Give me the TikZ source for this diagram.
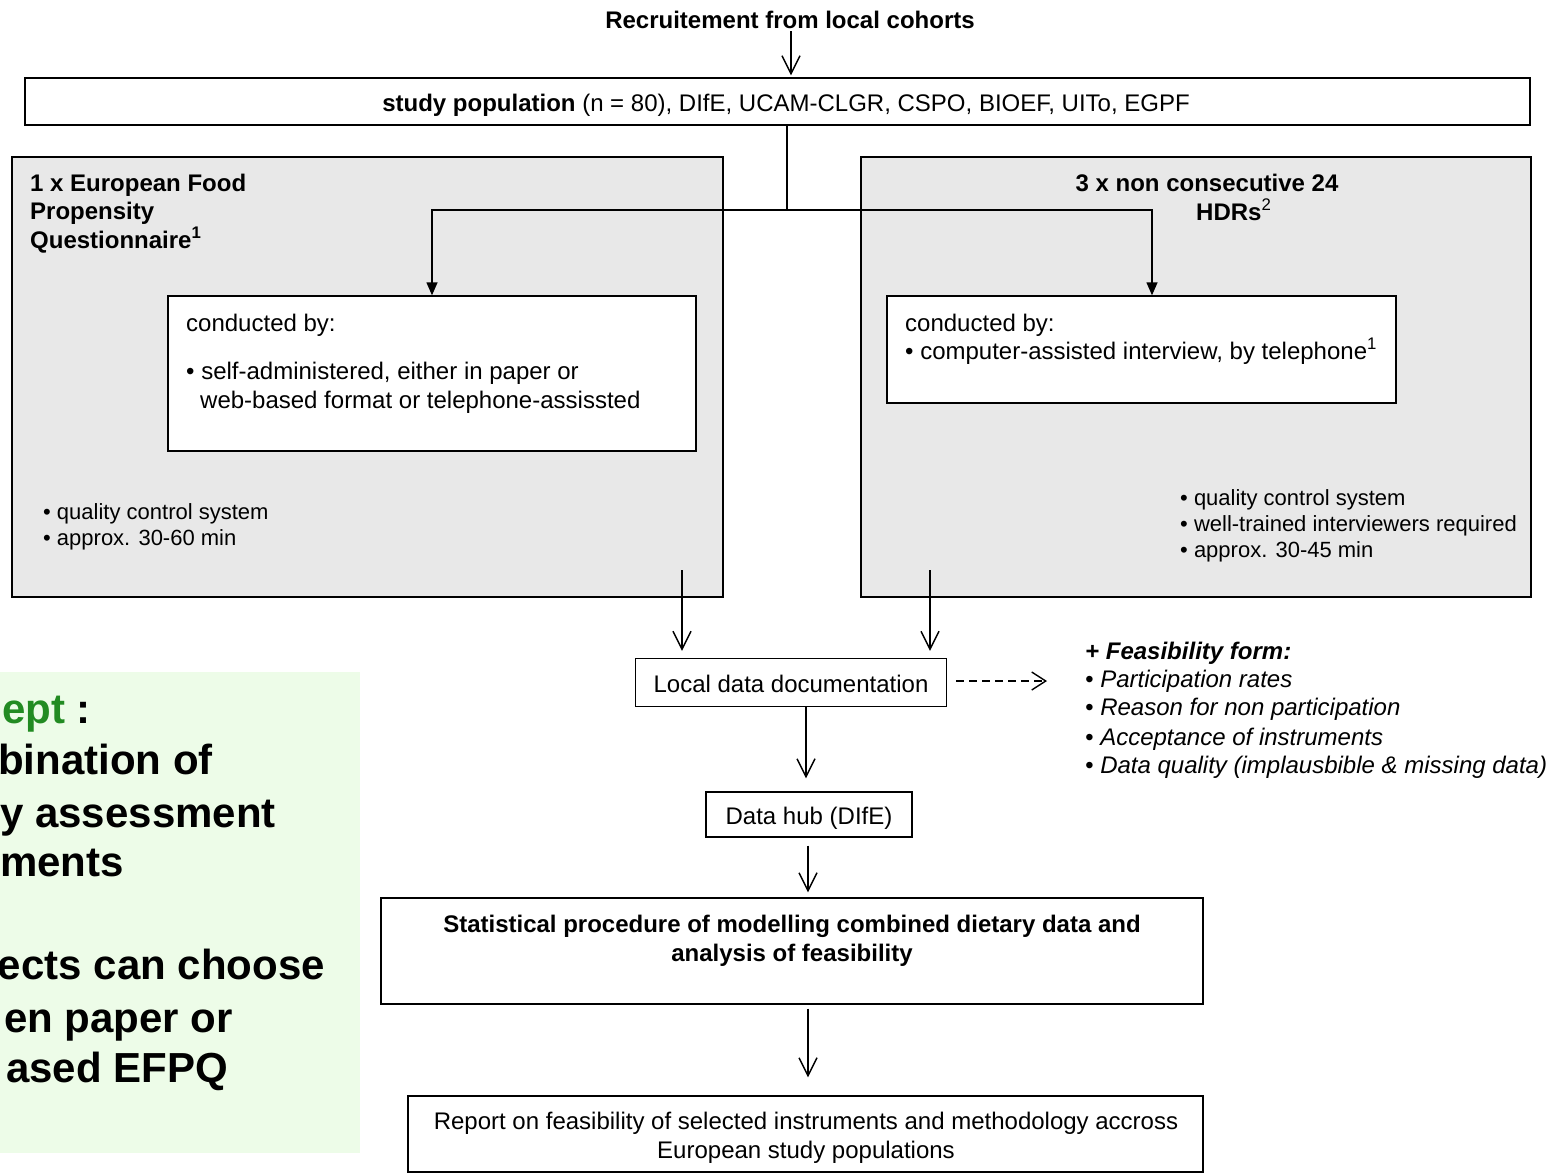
\documentclass[tikz,border=0pt]{standalone}
\usepackage{fontspec}
\setmainfont{Liberation Sans}
\usetikzlibrary{arrows.meta}
\definecolor{grayfill}{RGB}{232,232,232}
\definecolor{greenbg}{RGB}{237,252,232}
\definecolor{greentxt}{RGB}{34,139,34}
\begin{document}
\begin{tikzpicture}[x=1pt,y=-1pt,
  font=\fontsize{24}{28.5}\selectfont,
  box/.style={draw, line width=1.4pt, fill=white, inner sep=0pt},
  graybox/.style={draw, line width=1.4pt, fill=grayfill, inner sep=0pt},
  txt/.style={inner sep=0pt},
  small/.style={inner sep=0pt, anchor=base west, font=\fontsize{22}{26}\selectfont},
  big/.style={inner sep=0pt, anchor=base east, font=\fontsize{42}{50}\selectfont\bfseries},
  oarrow/.style={line width=1.4pt, -{Straight Barb[length=18pt,width=18pt,line width=1.4pt]}},
  farrow/.style={line width=1.4pt, -{Triangle[length=13pt,width=11pt]}},
  darrow/.style={line width=1.4pt, dash pattern=on 8pt off 5pt, -{Straight Barb[length=14pt,width=18pt,line width=1.4pt]}},
  plain/.style={line width=1.4pt}
]
\useasboundingbox (0,0) rectangle (1552,1175);
\fill[white] (0,0) rectangle (1552,1175);

% helper coordinates
\coordinate (xr) at (791,0);
\coordinate (xs) at (787,0);
\coordinate (sp) at (787,210);
\coordinate (xL) at (432,0);
\coordinate (xR) at (1152,0);
\coordinate (la) at (682,570);
\coordinate (ra) at (930,570);
\coordinate (xd) at (806,0);
\coordinate (xh) at (808,0);
\coordinate (dend) at (1047,681);

% green background panel (cropped)
\fill[greenbg] (0,672) rectangle (360,1153);
\node[txt, anchor=base west, font=\fontsize{42}{50}\selectfont\bfseries] (g1) at (2,723) {\textcolor{greentxt}{ept} :};
\node[big] (g2) at (213,774) {bination of};
\node[big] (g3) at (276,827) {y assessment};
\node[big] (g4) at (124,876) {ments};
\node[big] (g5) at (325,979) {ects can choose};
\node[big] (g6) at (233,1032) {en paper or};
\node[big] (g7) at (228,1082) {ased EFPQ};

% top
\node[txt, anchor=base] (rec) at (790,28) {\textbf{Recruitement from local cohorts}};
\node[box, minimum width=1505pt, minimum height=47pt] (study) at (777.5,101.5) {};
\node[txt, anchor=base] (studyt) at (786,111) {\textbf{study population} (n = 80), DIfE, UCAM-CLGR, CSPO, BIOEF, UITo, EGPF};

% gray boxes
\node[graybox, minimum width=711pt, minimum height=440pt] (gl) at (367.5,377) {};
\node[graybox, minimum width=670pt, minimum height=440pt] (gr) at (1196,377) {};

\node[txt, anchor=base west] (glt1) at (30,191) {\textbf{1 x European Food}};
\node[txt, anchor=base west] (glt2) at (30,219) {\textbf{Propensity}};
\node[txt, anchor=base west] (glt3) at (30,248) {\textbf{Questionnaire\textsuperscript{1}}};

\node[txt, anchor=base] (grt1) at (1207,191) {\textbf{3 x non consecutive 24}};
\node[txt, anchor=base west] (grt2) at (1196,220) {\textbf{HDRs}\textsuperscript{2}};

% inner boxes
\node[box, minimum width=528pt, minimum height=155pt] (inL) at (432,373.5) {};
\node[txt, anchor=base west] (inL1) at (186,331) {conducted by:};
\node[txt, anchor=base west] (inL2) at (186,379) {• self-administered, either in paper or};
\node[txt, anchor=base west] (inL3) at (200,408) {web-based format or telephone-assissted};

\node[box, minimum width=509pt, minimum height=107pt] (inR) at (1141.5,349.5) {};
\node[txt, anchor=base west] (inR1) at (905,331) {conducted by:};
\node[txt, anchor=base west] (inR2) at (905,359) {• computer-assisted interview, by telephone\textsuperscript{1}};

% bullets in gray boxes
\node[small] (bl1) at (43,519) {• quality control system};
\node[small] (bl2) at (43,545) {• approx. 30-60 min};
\node[small] (br1) at (1180,505) {• quality control system};
\node[small] (br2) at (1180,531) {• well-trained interviewers required};
\node[small] (br3) at (1180,557) {• approx. 30-45 min};

% lower flow
\node[box, minimum width=311pt, minimum height=48pt] (ldd) at (791,682.5) {};
\node[txt, anchor=base] (lddt) at (791,692) {Local data documentation};

\node[txt, anchor=base west] (fe0) at (1085,659) {\textbf{\textit{+ Feasibility form:}}};
\node[txt, anchor=base west] (fe1) at (1085,687) {\textit{• Participation rates}};
\node[txt, anchor=base west] (fe2) at (1085,715) {\textit{• Reason for non participation}};
\node[txt, anchor=base west] (fe3) at (1085,745) {\textit{• Acceptance of instruments}};
\node[txt, anchor=base west] (fe4) at (1085,773) {\textit{• Data quality (implausbible \& missing data)}};

\node[box, minimum width=206pt, minimum height=45pt] (hub) at (809,814.5) {};
\node[txt, anchor=base] (hubt) at (809,824) {Data hub (DIfE)};

\node[box, minimum width=822pt, minimum height=106pt] (stat) at (792,951) {};
\node[txt, anchor=base] (stat1) at (792,932) {\textbf{Statistical procedure of modelling combined dietary data and}};
\node[txt, anchor=base] (stat2) at (792,961) {\textbf{analysis of feasibility}};

\node[box, minimum width=795pt, minimum height=76pt] (report) at (805.5,1134) {};
\node[txt, anchor=base] (rep1) at (806,1129) {Report on feasibility of selected instruments and methodology accross};
\node[txt, anchor=base] (rep2) at (806,1158) {European study populations};

% connectors
\draw[oarrow, shorten <=3pt, shorten >=2pt] (rec.south -| xr) -- (xr |- study.north);
\draw[plain] (study.south -| xs) -- (sp);
\draw[farrow] (sp) -| (xL |- inL.north);
\draw[farrow] (sp) -| (xR |- inR.north);
\draw[oarrow, shorten >=7pt] (la) -- (la |- ldd.north);
\draw[oarrow, shorten >=7pt] (ra) -- (ra |- ldd.north);
\draw[darrow, shorten <=9pt] (ldd.east |- dend) -- (dend);
\draw[oarrow, shorten >=13pt] (ldd.south -| xd) -- (xd |- hub.north);
\draw[oarrow, shorten <=8pt, shorten >=5pt] (hub.south -| xh) -- (xh |- stat.north);
\draw[oarrow, shorten <=4pt, shorten >=18pt] (stat.south -| xh) -- (xh |- report.north);
\end{tikzpicture}
\end{document}
